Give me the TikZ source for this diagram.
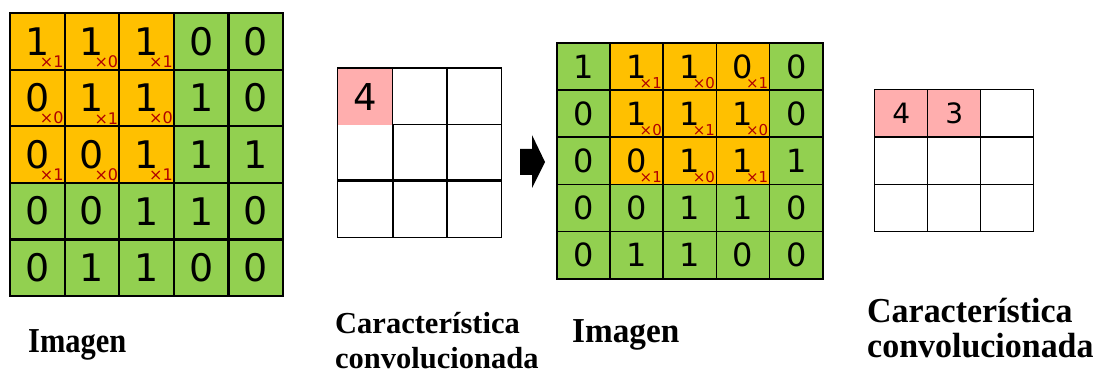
\documentclass[tikz,border=0pt]{standalone}
\usepackage{fontspec}
\setmainfont{Liberation Serif}
\newfontfamily\digf{DejaVu Sans}
\definecolor{org}{HTML}{FFC000}
\definecolor{grn}{HTML}{92D050}
\definecolor{pnk}{HTML}{FFAEAE}
\definecolor{wred}{HTML}{B00000}
\tikzset{
  cellA/.style={draw=black, line width=2.1pt, inner sep=0pt, minimum width=54.6pt, minimum height=56.6pt, anchor=north west, font=\digf\fontsize{38}{38}\selectfont},
  cellB/.style={draw=black, line width=1.6pt, inner sep=0pt, minimum width=53.2pt, minimum height=47.2pt, anchor=north west, font=\digf\fontsize{32}{32}\selectfont},
  cellS/.style={draw=black, line width=1.2pt, inner sep=0pt, minimum width=54.7pt, minimum height=56.3pt, anchor=north west},
  cellT/.style={draw=black, line width=1.3pt, inner sep=0pt, minimum width=53pt, minimum height=47.3pt, anchor=north west},
  wsub/.style={inner sep=0pt, anchor=south east, text=wred, font=\digf\fontsize{16}{16}\selectfont},
  wsubB/.style={inner sep=0pt, anchor=south east, text=wred, font=\digf\fontsize{15}{15}\selectfont},
  lab/.style={inner sep=0pt, anchor=base west, align=left},
}
\begin{document}
\begin{tikzpicture}[x=1pt,y=-1pt]
\useasboundingbox (0,0) rectangle (1100,374);
% ---- left image grid
\foreach \row [count=\r] in {{1,1,1,0,0},{0,1,1,1,0},{0,0,1,1,1},{0,0,1,1,0},{0,1,1,0,0}} {
  \foreach \v [count=\c] in \row {
    \def\fc{grn}\ifnum\r<4 \ifnum\c<4 \def\fc{org}\fi\fi
    \node[cellA, fill=\fc] (L-\r-\c) at ({9+(\c-1)*54.6},{12+(\r-1)*56.6}) {\v};
  }
}
\foreach \row [count=\r] in {{1,0,1},{0,1,0},{1,0,1}} {
  \foreach \w [count=\c] in \row {
    \node[wsub] (L-\r-\c-w) at ([xshift=-2pt,yshift=3pt]L-\r-\c.south east) {×\w};
  }
}
% ---- first feature map
\foreach \r in {1,2,3} {
  \foreach \c in {1,2,3} {
    \node[cellS, fill=white] (S-\r-\c) at ({337+(\c-1)*54.7},{68+(\r-1)*56.3}) {};
  }
}
\fill[pnk] ([xshift=0.6pt,yshift=-0.6pt]S-1-1.north west) rectangle ([xshift=-0.6pt,yshift=0.6pt]S-1-1.south east);
\node[font=\digf\fontsize{37}{37}\selectfont, inner sep=0pt] (S-val) at (S-1-1) {4};
\draw[line width=2.4pt] (S-1-1.north west) -- (S-1-3.north east);
\draw[line width=2.4pt] (S-3-1.north west) -- (S-3-3.north east);
\draw[line width=2.4pt] (S-2-1.north east) -- (S-3-1.south east);
% ---- arrow
\fill[black] (520,149) -- (532,149) -- (532,135) -- (545,162) -- (532,188) -- (532,175) -- (520,175) -- cycle;
% ---- second image grid
\foreach \row [count=\r] in {{1,1,1,0,0},{0,1,1,1,0},{0,0,1,1,1},{0,0,1,1,0},{0,1,1,0,0}} {
  \foreach \v [count=\c] in \row {
    \def\fc{grn}\ifnum\r<4 \ifnum\c>1 \ifnum\c<5 \def\fc{org}\fi\fi\fi
    \node[cellB, fill=\fc] (A-\r-\c) at ({556+(\c-1)*53.2},{42+(\r-1)*47.2}) {\v};
  }
}
\foreach \row [count=\r] in {{1,0,1},{0,1,0},{1,0,1}} {
  \foreach \w [count=\k] in \row {
    \pgfmathtruncatemacro\c{\k+1}
    \node[wsubB] (A-\r-\c-w) at ([xshift=-2pt,yshift=2pt]A-\r-\c.south east) {×\w};
  }
}
% ---- second feature map
\foreach \r in {1,2,3} {
  \foreach \c in {1,2,3} {
    \def\fc{white}\ifnum\r=1 \ifnum\c<3 \def\fc{pnk}\fi\fi
    \node[cellT, fill=\fc] (T-\r-\c) at ({874+(\c-1)*53},{89+(\r-1)*47.3}) {};
  }
}
\node[font=\digf\fontsize{28}{28}\selectfont, inner sep=0pt] (T-v1) at (T-1-1) {4};
\node[font=\digf\fontsize{28}{28}\selectfont, inner sep=0pt] (T-v2) at (T-1-2) {3};
% ---- labels
\node[lab, font=\bfseries\fontsize{35}{35}\selectfont] (lab1) at (28,352) {\scalebox{0.87}[1]{Imagen}};
\node[lab, font=\bfseries\fontsize{30.5}{35}\selectfont] (lab2) at (335,368) {Característica\\convolucionada};
\node[lab, font=\bfseries\fontsize{35}{35}\selectfont] (lab3) at (572,342) {\scalebox{0.95}[1]{Imagen}};
\node[lab, font=\bfseries\fontsize{35}{35}\selectfont] (lab4) at (867,357) {\scalebox{0.97}[1]{Característica}\\\scalebox{0.97}[1]{convolucionada}};
\end{tikzpicture}
\end{document}
